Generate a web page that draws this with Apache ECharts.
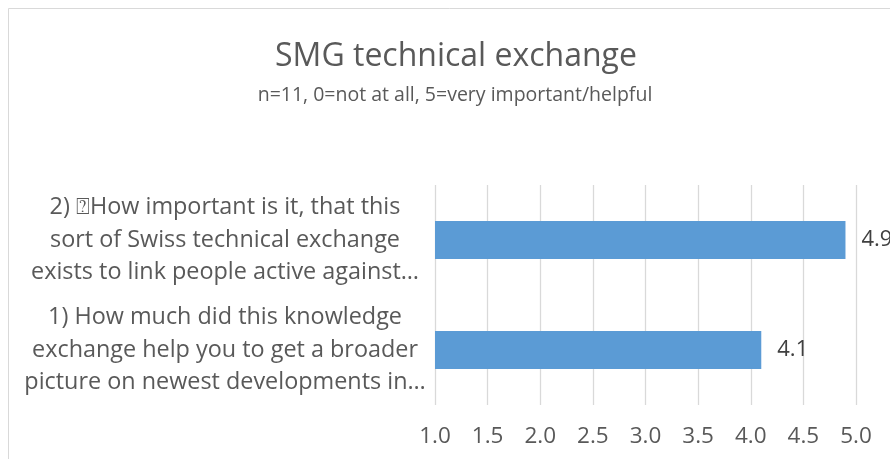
<!DOCTYPE html>
<html>
<head>
<meta charset="utf-8">
<script src="https://cdn.jsdelivr.net/npm/echarts@6/dist/echarts.min.js"></script>
<style>html,body{margin:0;padding:0;background:#fff;}#c{width:890px;height:459px;}</style>
</head>
<body>
<div id="c"></div>
<script>
const titleText = 'SMG technical exchange';
const subtitleText = 'n=11, 0=not at all, 5=very important/helpful';
const categories = [
  '1) How much did this knowledge\nexchange help you to get a broader\npicture on newest developments in\u2026',
  '2) \u2370How important is it, that this\nsort of Swiss technical exchange\nexists to link people active against\u2026'
];
const values = [4.1, 4.9];
const xTicks = { min: 1.0, max: 5.0, step: 0.5 };

const FONT = '"Open Sans", "DejaVu Sans", sans-serif';
const chart = echarts.init(document.getElementById('c'));
chart.setOption({
  animation: false,
  backgroundColor: '#ffffff',
  title: [
    { text: titleText, left: 451, top: 31, textAlign: 'center',
      textStyle: { fontFamily: FONT, fontSize: 32, fontWeight: 'normal', color: '#595959', lineHeight: 42 } },
    { text: subtitleText, left: 450, top: 77, textAlign: 'center',
      textStyle: { fontFamily: FONT, fontSize: 19.5, fontWeight: 'normal', color: '#595959', lineHeight: 26 } }
  ],
  graphic: [
    { type: 'rect', silent: true, z: -1,
      shape: { x: 8.5, y: 8.5, width: 1000, height: 1000 },
      style: { fill: 'none', stroke: '#d9d9d9', lineWidth: 1 } }
  ],
  grid: { left: 435, right: 34, top: 185, bottom: 54, containLabel: false },
  xAxis: {
    type: 'value', min: xTicks.min, max: xTicks.max, interval: xTicks.step,
    axisLine: { show: false }, axisTick: { show: false },
    splitLine: { show: true, lineStyle: { color: '#d9d9d9', width: 1.3 } },
    axisLabel: { margin: 20, fontFamily: FONT, fontSize: 22.5, color: '#595959',
      formatter: v => v.toFixed(1) }
  },
  yAxis: {
    type: 'category', data: categories,
    axisLine: { show: false }, axisTick: { show: false },
    axisLabel: { align: 'center', margin: 210, fontFamily: FONT, fontSize: 23.4, lineHeight: 32.5,
      padding: [5, 0, 0, 0], color: '#595959' }
  },
  series: [{
    type: 'bar', data: values, barWidth: 38,
    itemStyle: { color: '#5B9BD5' },
    label: { show: true, position: 'right', distance: 16, fontFamily: FONT, fontSize: 22, color: '#404040',
      formatter: p => p.value.toFixed(1) }
  }]
});
</script>
</body>
</html>
